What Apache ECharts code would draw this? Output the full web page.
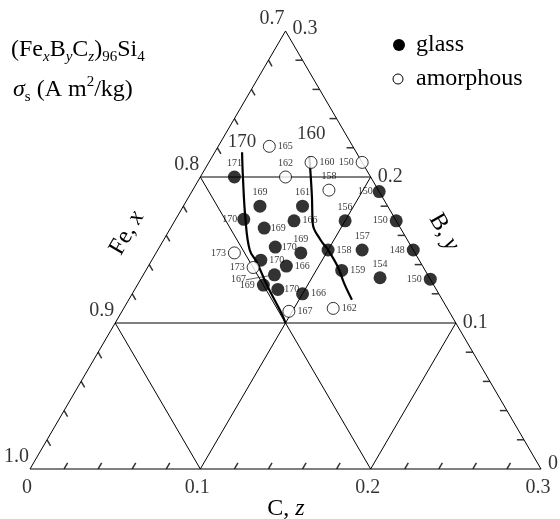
<!DOCTYPE html>
<html>
<head>
<meta charset="utf-8">
<script src="https://cdn.jsdelivr.net/npm/echarts@6/dist/echarts.min.js"></script>
<style>
html, body { margin: 0; padding: 0; background: #fff; }
#main { width: 560px; height: 519px; }
</style>
</head>
<body>
<div id="main"></div>
<script>
// compositions: y = B fraction, z = C fraction (x = Fe = 1 - y - z)
let glassY = [0.200, 0.180, 0.180, 0.171, 0.165, 0.170, 0.170, 0.152, 0.148, 0.150, 0.150, 0.143,
    0.139, 0.136, 0.131, 0.133, 0.126, 0.123, 0.120, 0.190, 0.170, 0.150, 0.130];
let glassZ = [0.020, 0.045, 0.070, 0.040, 0.055, 0.070, 0.100, 0.068, 0.085, 0.100, 0.120, 0.064,
    0.081, 0.115, 0.140, 0.077, 0.074, 0.084, 0.100, 0.110, 0.130, 0.150, 0.170];
let glassSigma = [171, 169, 161, 170, 169, 166, 156, 170, 169, 158, 157, 170,
    166, 159, 154, 167, 169, 170, 166, 150, 150, 148, 150];

let amorY = [0.221, 0.200, 0.210, 0.210, 0.191, 0.148, 0.138, 0.108, 0.110];
let amorZ = [0.030, 0.050, 0.060, 0.090, 0.080, 0.046, 0.062, 0.098, 0.123];
let amorSigma = [165, 162, 160, 150, 158, 173, 173, 167, 162];

// iso-sigma lines
let line170Y = [0.217, 0.200, 0.171, 0.150, 0.142, 0.125, 0.107, 0.100];
let line170Z = [0.016, 0.025, 0.041, 0.054, 0.062, 0.077, 0.094, 0.100];
let line160Y = [0.214, 0.187, 0.168, 0.157, 0.150, 0.139, 0.127, 0.116];
let line160Z = [0.057, 0.072, 0.082, 0.092, 0.100, 0.111, 0.121, 0.131];

let feTicks = ['0.7', '0.8', '0.9', '1.0'];
let bTicks = ['0.3', '0.2', '0.1', '0'];
let cTicks = ['0', '0.1', '0.2', '0.3'];

// where each value label sits next to its point
let glassLabelAt = ['top', 'top', 'top', 'tl', 'tr', 'br', 'top', 'tr', 'top', 'right', 'top', 'right',
    'right', 'right', 'top', 'lead', 'left', 'tr', 'right', 'bl', 'left', 'left', 'left'];
let amorLabelAt = ['right', 'top', 'right', 'left', 'top', 'left', 'left', 'right', 'right'];

const SERIF = 'Liberation Serif';

// ternary (y, z) -> plot plane: horizontal = z + y/2, vertical = y
function tp(y, z) {
    return [z + y / 2, y];
}

let place = {
    top: { position: 'top', distance: 2 },
    left: { position: 'left', distance: 2 },
    right: { position: 'right', distance: 2 },
    tl: { position: 'left', distance: 0, offset: [3, -9] },
    tr: { position: 'right', distance: 0, offset: [-3, -9] },
    br: { position: 'right', distance: 2, offset: [0, 6] },
    bl: { position: 'left', distance: 0, offset: [3, 11] },
    lead: { position: 'left', distance: 2 }
};

function points(ys, zs, vals, at) {
    return ys.map(function (y, i) {
        let item = { value: tp(y, zs[i]).concat([vals[i]]), label: place[at[i]] };
        if (at[i] === 'lead') item.labelLine = { show: true, lineStyle: { color: '#000', width: 0.6 } };
        return item;
    });
}

// frame: triangle edges and 0.1 grid lines, each [y1, z1, y2, z2]
let frameSegs = [
    [0, 0, 0, 0.3], [0, 0, 0.3, 0], [0, 0.3, 0.3, 0],
    [0.1, 0, 0.1, 0.2], [0.2, 0, 0.2, 0.1],
    [0, 0.1, 0.2, 0.1], [0, 0.2, 0.1, 0.2],
    [0, 0.1, 0.1, 0], [0, 0.2, 0.2, 0]
];

// minor ticks every 0.02: short rects centred half a tick inside each edge
let h = 0.0021;
let tickMarks = [];
for (let k = 1; k < 15; k++) {
    let t = k * 0.02;
    if (k === 5 || k === 10) continue;
    tickMarks.push({ value: tp(h, t), symbolRotate: -30 });          // C axis, bottom
    tickMarks.push({ value: tp(t - h, h), symbolRotate: 30 });       // Fe axis, left
    tickMarks.push({ value: tp(t, 0.3 - t - h), symbolRotate: 90 }); // B axis, right
}

let tickText = [];
feTicks.forEach(function (t, i) {
    tickText.push({ value: tp(0.3 - i * 0.1, 0), label: { formatter: t, position: 'left', distance: 1, offset: [0, -12] } });
});
bTicks.forEach(function (t, i) {
    tickText.push({ value: tp(0.3 - i * 0.1, i * 0.1), label: { formatter: t, position: 'right', distance: 7, offset: [0, i === 3 ? -5 : (i === 0 ? -2 : 0)] } });
});
cTicks.forEach(function (t, i) {
    tickText.push({ value: tp(0, i * 0.1), label: { formatter: t, position: 'bottom', distance: 9, offset: [-3, 0] } });
});

let rt = function (size, extra) {
    return Object.assign({ fontFamily: SERIF, fontSize: size, fontWeight: 'normal', color: '#000' }, extra || {});
};

let chart = echarts.init(document.getElementById('main'));
chart.setOption({
    animation: false,
    backgroundColor: '#fff',
    textStyle: { fontFamily: SERIF, fontWeight: 'normal' },
    title: [{
        left: 11, top: 35, padding: 0,
        text: '{b|(Fe}{s|x}{b|B}{s|y}{b|C}{s|z}{b|)}{n|96}{b|Si}{n|4}',
        textStyle: {
            fontFamily: SERIF, fontWeight: 'normal', fontSize: 24, color: '#000',
            rich: {
                b: rt(24, { lineHeight: 30 }),
                s: rt(15, { lineHeight: 15, fontStyle: 'italic', verticalAlign: 'bottom' }),
                n: rt(15, { lineHeight: 15, verticalAlign: 'bottom' })
            }
        }
    }, {
        left: 13, top: 75, padding: 0,
        text: '{i|σ}{n|s}{b| (A m}{p|2}{b|/kg)}',
        textStyle: {
            fontFamily: SERIF, fontWeight: 'normal', fontSize: 24, color: '#000',
            rich: {
                b: rt(24, { lineHeight: 30 }),
                i: rt(24, { lineHeight: 30, fontStyle: 'italic' }),
                n: rt(15, { lineHeight: 15, verticalAlign: 'bottom' }),
                p: rt(15, { lineHeight: 15, verticalAlign: 'top' })
            }
        }
    }],
    grid: { left: 30, right: 19, top: 31, bottom: 50 },
    xAxis: { type: 'value', min: 0, max: 0.3, show: false },
    yAxis: { type: 'value', min: 0, max: 0.3, show: false },
    graphic: [
        // legend
        { type: 'circle', shape: { cx: 399, cy: 45, r: 6 }, style: { fill: '#000' } },
        { type: 'circle', shape: { cx: 398, cy: 79, r: 5 }, style: { fill: '#fff', stroke: '#000', lineWidth: 1 } },
        { type: 'text', x: 416, y: 45, style: { text: '{a|glass}', verticalAlign: 'middle', rich: { a: rt(24) } } },
        { type: 'text', x: 416, y: 79, style: { text: '{a|amorphous}', verticalAlign: 'middle', rich: { a: rt(24) } } },
        // axis titles
        { type: 'text', x: 127, y: 233, rotation: Math.PI / 3,
          style: { text: '{a|Fe, }{b|x}', align: 'center', verticalAlign: 'middle',
            rich: { a: rt(24), b: rt(24, { fontStyle: 'italic' }) } } },
        { type: 'text', x: 444, y: 232, rotation: -Math.PI / 3,
          style: { text: '{a|B, }{b|y}', align: 'center', verticalAlign: 'middle',
            rich: { a: rt(24), b: rt(24, { fontStyle: 'italic' }) } } },
        { type: 'text', x: 286, y: 509,
          style: { text: '{a|C, }{b|z}', align: 'center', verticalAlign: 'middle',
            rich: { a: rt(24), b: rt(24, { fontStyle: 'italic' }) } } }
    ],
    series: [{
        name: 'frame',
        type: 'custom',
        silent: true,
        clip: false,
        z: 1,
        encode: { x: [0, 2], y: [1, 3] },
        renderItem: function (params, api) {
            let a = api.coord([api.value(0), api.value(1)]);
            let b = api.coord([api.value(2), api.value(3)]);
            return {
                type: 'line',
                shape: { x1: a[0], y1: a[1], x2: b[0], y2: b[1] },
                style: { stroke: '#000', lineWidth: 1 }
            };
        },
        data: frameSegs.map(function (s) { return tp(s[0], s[1]).concat(tp(s[2], s[3])); })
    }, {
        name: 'ticks',
        type: 'scatter',
        silent: true,
        symbol: 'rect',
        symbolSize: [1.5, 7],
        z: 1,
        itemStyle: { color: '#000' },
        data: tickMarks
    }, {
        name: 'ticklabels',
        type: 'scatter',
        silent: true,
        symbolSize: 0,
        label: { show: true, fontFamily: SERIF, fontSize: 20, color: '#000' },
        data: tickText
    }, {
        name: '170',
        type: 'line',
        smooth: 0.4,
        showSymbol: false,
        silent: true,
        z: 3,
        lineStyle: { color: '#000', width: 2.2 },
        data: line170Y.map(function (y, i) { return tp(y, line170Z[i]); })
    }, {
        name: '160',
        type: 'line',
        smooth: 0.4,
        showSymbol: false,
        silent: true,
        z: 3,
        lineStyle: { color: '#000', width: 2.2 },
        data: line160Y.map(function (y, i) { return tp(y, line160Z[i]); })
    }, {
        name: 'isolabels',
        type: 'scatter',
        silent: true,
        symbolSize: 0,
        label: { show: true, fontFamily: SERIF, fontSize: 19, color: '#000', formatter: function (p) { return p.value[2]; } },
        data: [
            { value: tp(line170Y[0], line170Z[0]).concat(['170']), label: { position: 'top', distance: 1 } },
            { value: tp(line160Y[0], line160Z[0]).concat(['160']), label: { position: 'top', distance: 0, offset: [2, -13] } }
        ]
    }, {
        name: 'glass',
        type: 'scatter',
        symbol: 'circle',
        symbolSize: 13,
        z: 5,
        itemStyle: { color: '#000' },
        label: { show: true, fontFamily: SERIF, fontSize: 10, color: '#000', formatter: function (p) { return p.value[2]; } },
        labelLayout: function (p) {
            return glassLabelAt[p.dataIndex] === 'lead' ? { dx: -20, dy: 5 } : {};
        },
        emphasis: { disabled: true },
        data: points(glassY, glassZ, glassSigma, glassLabelAt)
    }, {
        name: 'amorphous',
        type: 'scatter',
        symbol: 'circle',
        symbolSize: 12,
        z: 5,
        itemStyle: { color: '#fff', borderColor: '#000', borderWidth: 1 },
        label: { show: true, fontFamily: SERIF, fontSize: 10, color: '#000', formatter: function (p) { return p.value[2]; } },
        emphasis: { disabled: true },
        data: points(amorY, amorZ, amorSigma, amorLabelAt)
    }]
});
</script>
</body>
</html>
